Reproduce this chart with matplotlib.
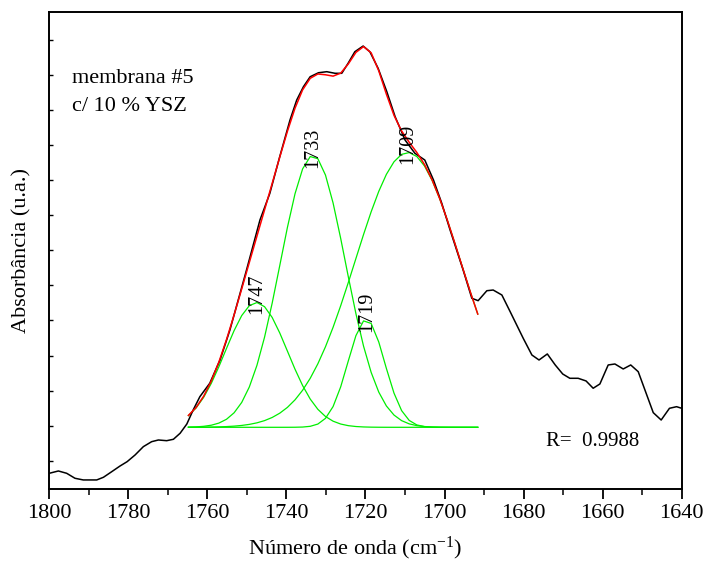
import numpy as np
import matplotlib
matplotlib.use("Agg")
import matplotlib.pyplot as plt
from matplotlib.ticker import MultipleLocator

plt.rcParams['font.family'] = ['Liberation Serif', 'DejaVu Serif']
plt.rcParams['mathtext.fontset'] = 'custom'
plt.rcParams['mathtext.rm'] = 'Liberation Serif'
plt.rcParams['mathtext.it'] = 'Liberation Serif:italic'

# measured spectrum
wavenumber = [1800.0, 1797.7, 1795.6, 1793.5, 1791.4, 1788.0, 1786.3, 1784.2, 1782.1, 1780.3,
              1778.3, 1776.2, 1774.1, 1772.4, 1770.3, 1768.6, 1766.9, 1765.2, 1763.6, 1761.9,
              1759.4, 1756.8, 1754.3, 1750.1, 1746.7, 1744.2, 1741.7, 1739.1, 1737.4, 1735.7,
              1734.0, 1731.9, 1729.8, 1727.7, 1726.0, 1724.4, 1722.7, 1720.6, 1718.9, 1716.8,
              1714.6, 1712.5, 1710.0, 1707.5, 1705.0, 1702.8, 1700.7, 1698.6, 1695.3, 1693.1,
              1691.5, 1689.3, 1687.7, 1685.5, 1683.4, 1680.1, 1677.9, 1676.1, 1674.0, 1672.0,
              1670.1, 1668.3, 1666.2, 1664.2, 1662.4, 1660.7, 1658.6, 1656.9, 1654.8, 1652.9,
              1651.0, 1647.2, 1645.2, 1643.1, 1641.3, 1640.0]
absorbance = [0.282, 0.2853, 0.282, 0.2749, 0.2725, 0.2725, 0.2763, 0.2843, 0.2924, 0.2986,
              0.3081, 0.3200, 0.3271, 0.3295, 0.3285, 0.3305, 0.3391, 0.3523, 0.3723, 0.3913,
              0.4104, 0.4436, 0.4864, 0.5720, 0.6433, 0.6813, 0.7335, 0.7859, 0.8144, 0.8334,
              0.8476, 0.8533, 0.8548, 0.8525, 0.8525, 0.8668, 0.8833, 0.8914, 0.8833, 0.8596,
              0.8262, 0.7906, 0.7574, 0.7384, 0.7288, 0.7003, 0.6671, 0.6290, 0.5720, 0.5316,
              0.5282, 0.5424, 0.5434, 0.5363, 0.5125, 0.4746, 0.4507, 0.4436, 0.4522, 0.4365,
              0.4236, 0.4175, 0.4175, 0.4137, 0.4033, 0.4094, 0.4365, 0.4379, 0.4308, 0.4365,
              0.4269, 0.3685, 0.3580, 0.3747, 0.3770, 0.3747]

# fitted gaussian components (centre, height above baseline, FWHM)
peak_labels = ["1747", "1733", "1719", "1709"]
peak_centers = [1747.6, 1733.3, 1719.8, 1709.3]
peak_heights = [0.1780, 0.3875, 0.1535, 0.3920]
peak_fwhm = [18.6, 19.4, 10.9, 31.3]
fit_baseline = 0.3476
fit_start, fit_end, fit_points = 1764.8, 1691.6, 39
r_text = "R=  0.9988"

x_fit = np.linspace(fit_start, fit_end, fit_points)
components = []
for c, h, w in zip(peak_centers, peak_heights, peak_fwhm):
    s = w / (2 * np.sqrt(2 * np.log(2)))
    components.append(h * np.exp(-0.5 * ((x_fit - c) / s) ** 2))
fit_total = fit_baseline + np.sum(components, axis=0)

fig = plt.figure(figsize=(7.06, 5.62), dpi=100)
ax = fig.add_axes([0.0698, 0.1299, 0.8958, 0.8482])

for comp in components:
    ax.plot(x_fit, fit_baseline + comp, color='#00ee00', lw=0.9)
ax.plot(wavenumber, absorbance, color='black', lw=1.1)
ax.plot(x_fit, fit_total, color='red', lw=1.1)

for lab, c, h in zip(peak_labels, peak_centers, peak_heights):
    ax.text(c, fit_baseline + h - 0.017, lab, rotation=90, ha='center', va='bottom',
            fontsize=14.5)

ax.text(1794.2, 0.8387, "membrana #5", fontsize=16, va='baseline', ha='left')
ax.text(1794.2, 0.7987, "c/ 10 % YSZ", fontsize=16, va='baseline', ha='left')
ax.text(1674.3, 0.3214, r_text, fontsize=15, va='baseline', ha='left')

ax.set_xlim(1800, 1640)
ax.set_ylim(0.2596, 0.9395)
ax.xaxis.set_major_locator(MultipleLocator(20))
ax.xaxis.set_minor_locator(MultipleLocator(10))
ax.yaxis.set_major_locator(MultipleLocator(0.05))
ax.tick_params(axis='x', which='major', direction='out', length=7, width=1.3,
               labelsize=16, pad=4, top=False)
ax.tick_params(axis='x', which='minor', direction='out', length=4, width=1.1, top=False)
ax.tick_params(axis='y', which='major', direction='in', length=3, width=1.0,
               labelleft=False, right=False)
for sp in ax.spines.values():
    sp.set_linewidth(1.4)

ax.set_xlabel("Número de onda (cm$^{\\mathregular{-1}}$)", fontsize=16, labelpad=8, x=0.483)
ax.set_ylabel("Absorbância (u.a.)", fontsize=16, labelpad=13)

fig.savefig("out.png", dpi=100)
